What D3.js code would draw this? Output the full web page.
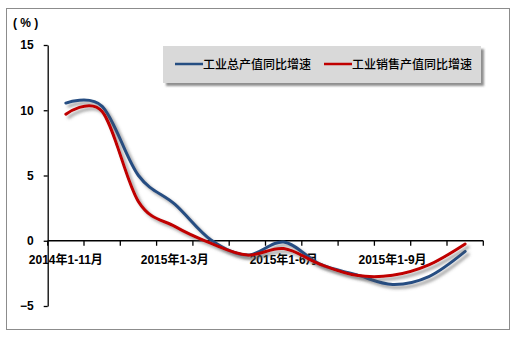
<!DOCTYPE html>
<html><head><meta charset="utf-8">
<script src="https://cdn.jsdelivr.net/npm/d3@7"></script>
<style>
body{margin:0;background:#fff;}
svg text{font-family:Arial,"Liberation Sans","Noto Sans CJK SC",sans-serif;}
</style></head>
<body><svg id="c" width="517" height="338"></svg>
<script>
const categories = ["2014年1-11月","2014年1-12月","2015年1-2月","2015年1-3月","2015年1-4月","2015年1-5月","2015年1-6月","2015年1-7月","2015年1-8月","2015年1-9月","2015年1-10月","2015年1-11月"];
const outputGrowth = [10.55, 10.3, 5.0, 2.8, 0.05, -1.1, -0.1, -1.8, -2.6, -3.35, -2.75, -0.82];
const salesGrowth  = [9.7, 9.9, 3.0, 1.1, -0.2, -1.1, -0.6, -1.8, -2.65, -2.65, -1.85, -0.25];
const seriesNames = ["工业总产值同比增速","工业销售产值同比增速"];
const seriesColors = ["#254e82","#c00000"];
const yTicks = [-5,0,5,10,15];
const labelIdx = [0,3,6,9];

const svg = d3.select("#c");
const defs = svg.append("defs");
const f = defs.append("filter").attr("id","sh").attr("x","-10%").attr("y","-10%").attr("width","130%").attr("height","140%");
f.append("feDropShadow").attr("dx",3).attr("dy",3).attr("stdDeviation",1.6).attr("flood-color","#555").attr("flood-opacity",0.55);
const f2 = defs.append("filter").attr("id","bsh").attr("x","-5%").attr("y","-10%").attr("width","115%").attr("height","140%");
f2.append("feDropShadow").attr("dx",3).attr("dy",3).attr("stdDeviation",1.2).attr("flood-color","#444").attr("flood-opacity",0.6);

svg.append("rect").attr("x",6.5).attr("y",8.5).attr("width",503).attr("height",321)
  .attr("fill","#fff").attr("stroke","#8c8c8c").attr("stroke-width",1);

const x = d3.scaleBand().domain(categories).range([47.7,483.3]);
const y = d3.scaleLinear().domain([-5,15]).range([306,45]);

// y axis
const ya = svg.append("g").attr("transform","translate(47.7,0)")
  .call(d3.axisLeft(y).tickValues(yTicks).tickSize(4).tickSizeOuter(0).tickPadding(10).tickFormat(d3.format("d")));
ya.selectAll("path,line").attr("stroke","#000").attr("stroke-width",1.3);
ya.selectAll("text").attr("font-size",12).attr("font-weight","bold").attr("fill","#000");

// x axis at 0
const xa = svg.append("g").attr("transform",`translate(0,${y(0)})`);
xa.append("line").attr("x1",x.range()[0]).attr("x2",x.range()[1]).attr("stroke","#000").attr("stroke-width",1.3);
const bounds = categories.map(c=>x(c)).concat([x.range()[1]]);
xa.selectAll("line.tk").data(bounds).enter().append("line").attr("class","tk")
  .attr("x1",d=>d).attr("x2",d=>d).attr("y1",0).attr("y2",5).attr("stroke","#000").attr("stroke-width",1.3);
xa.selectAll("text").data(labelIdx.map(i=>categories[i])).enter().append("text")
  .attr("x",d=>x(d)+x.bandwidth()/2).attr("y",23).attr("text-anchor","middle")
  .attr("font-size",12).attr("font-weight","bold").attr("fill","#000").text(d=>d);

svg.append("text").attr("x",13).attr("y",27).attr("font-size",12).attr("font-weight","bold")
  .attr("fill","#000").attr("xml:space","preserve").style("white-space","pre").text("( % )");

// lines
const line = d3.line().x((d,i)=>x(categories[i])+x.bandwidth()/2).y(d=>y(d)).curve(d3.curveCardinal.tension(0));
[outputGrowth, salesGrowth].forEach((s,k)=>{
  svg.append("path").attr("d",line(s)).attr("fill","none").attr("stroke",seriesColors[k])
    .attr("stroke-width",3).attr("stroke-linecap","round").attr("filter","url(#sh)");
});

// legend
svg.append("rect").attr("x",163).attr("y",46).attr("width",318).attr("height",37)
  .attr("fill","#d9d9d9").attr("filter","url(#bsh)");
const lg = [[175,203],[324,352]];
seriesNames.forEach((n,k)=>{
  svg.append("line").attr("x1",lg[k][0]).attr("x2",lg[k][1]).attr("y1",64).attr("y2",64)
    .attr("stroke",seriesColors[k]).attr("stroke-width",2.5);
  svg.append("text").attr("x",lg[k][1]).attr("y",68.5).attr("font-size",12)
    .attr("font-family","'Noto Sans CJK SC',sans-serif").attr("font-weight",500).attr("fill","#000").text(n);
});
</script></body></html>
